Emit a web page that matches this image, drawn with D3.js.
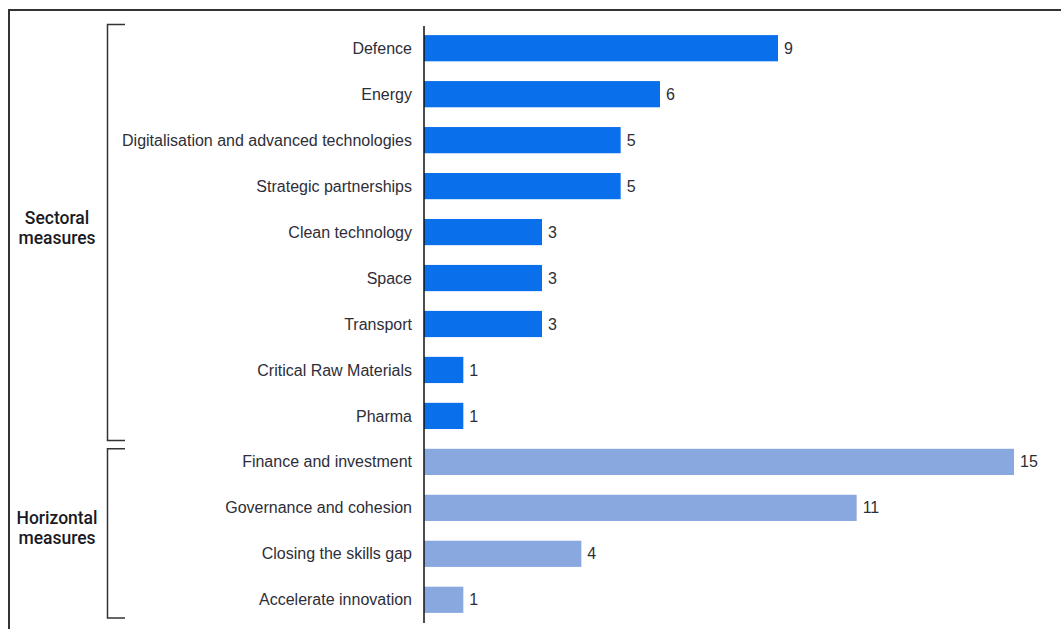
<!DOCTYPE html>
<html lang="en">
<head>
    <meta charset="UTF-8">
    <script src="https://cdnjs.cloudflare.com/ajax/libs/d3/7.8.5/d3.min.js"></script>
    <style>
        body { margin: 0; background: #fff; }
        text { font-family: "Liberation Sans", Arial, sans-serif; fill: #2e2e38; }
        .cat { font-size: 16px; text-anchor: end; }
        .val { font-size: 16px; }
        .grp { font-family: Roboto, "Liberation Sans", sans-serif; font-size: 17.5px; font-weight: 500; text-anchor: middle; fill: #1a1a24; }
    </style>
</head>
<body>
<svg id="chart" width="1061" height="629"></svg>
<script>
    const categories = ["Defence", "Energy", "Digitalisation and advanced technologies",
        "Strategic partnerships ", "Clean technology", "Space", "Transport",
        "Critical Raw Materials", "Pharma", "Finance and investment",
        "Governance and cohesion", "Closing the skills gap", "Accelerate innovation"];
    const values = [9, 6, 5, 5, 3, 3, 3, 1, 1, 15, 11, 4, 1];
    const groups = ["sectoral", "sectoral", "sectoral", "sectoral", "sectoral", "sectoral",
        "sectoral", "sectoral", "sectoral", "horizontal", "horizontal", "horizontal", "horizontal"];
    const groupLabels = [
        {key: "sectoral", lines: ["Sectoral", "measures"], first: 0, last: 8},
        {key: "horizontal", lines: ["Horizontal", "measures"], first: 9, last: 12}
    ];

    const svg = d3.select("#chart");
    const colors = {sectoral: "#0a6feb", horizontal: "#8aa8e0"};
    // how far each bracket reaches above / below its bars
    const bracketPad = {sectoral: [10.5, 11.5], horizontal: [0, 5]};

    // outer frame (cut off at right and bottom)
    svg.append("path")
        .attr("d", "M9,640 V10 H1070")
        .attr("fill", "none")
        .attr("stroke", "#333")
        .attr("stroke-width", 2);

    const x = d3.scaleLinear().domain([0, 15]).range([424, 1014]);
    const y = d3.scaleBand().domain(d3.range(categories.length))
        .range([25, 623]).paddingInner(0.43).paddingOuter(0.22);

    const data = categories.map((c, i) => ({cat: c, value: values[i], group: groups[i], i}));

    svg.selectAll("rect.bar")
        .data(data)
        .enter()
        .append("rect")
        .attr("class", "bar")
        .attr("x", x(0))
        .attr("y", d => y(d.i))
        .attr("width", d => x(d.value) - x(0))
        .attr("height", y.bandwidth())
        .attr("fill", d => colors[d.group]);

    svg.selectAll("text.cat")
        .data(data)
        .enter()
        .append("text")
        .attr("class", "cat")
        .attr("x", 412)
        .attr("y", d => y(d.i) + y.bandwidth() / 2)
        .attr("dy", "0.35em")
        .text(d => d.cat);

    svg.selectAll("text.val")
        .data(data)
        .enter()
        .append("text")
        .attr("class", "val")
        .attr("x", d => x(d.value) + 6)
        .attr("y", d => y(d.i) + y.bandwidth() / 2)
        .attr("dy", "0.35em")
        .text(d => d.value);

    // axis line
    svg.append("line")
        .attr("x1", x(0)).attr("x2", x(0))
        .attr("y1", 26).attr("y2", 623)
        .attr("stroke", "#111")
        .attr("stroke-width", 1.5);

    // brackets
    groupLabels.forEach(g => {
        const top = y(g.first) - bracketPad[g.key][0];
        const bottom = y(g.last) + y.bandwidth() + bracketPad[g.key][1];
        svg.append("path")
            .attr("d", `M125,${top} H107.5 V${bottom} H125`)
            .attr("fill", "none")
            .attr("stroke", "#333")
            .attr("stroke-width", 1.5);
        const mid = (top + bottom) / 2 - 5;
        const t = svg.append("text").attr("class", "grp").attr("x", 57);
        g.lines.forEach((ln, k) => {
            t.append("tspan")
                .attr("x", 57)
                .attr("y", mid + (k - 0.5) * 20)
                .attr("dy", "0.35em")
                .text(ln);
        });
    });
</script>
</body>
</html>
